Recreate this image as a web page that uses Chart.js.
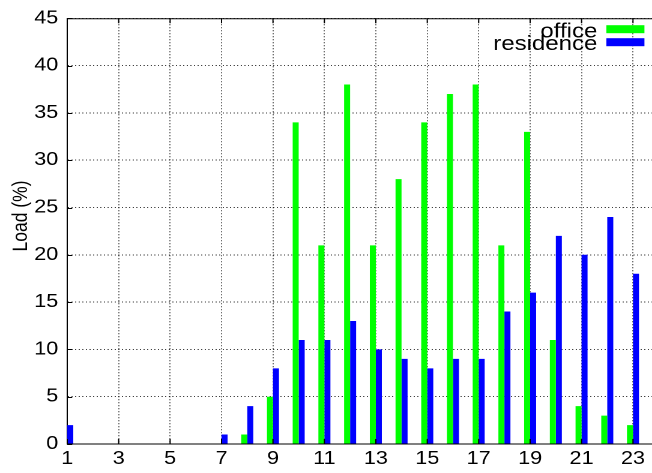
<!DOCTYPE html>
<html>
<head>
<meta charset="utf-8">
<script src="https://cdn.jsdelivr.net/npm/chart.js@4/dist/chart.umd.min.js"></script>
<style>
  html, body { margin: 0; padding: 0; background: #fff; }
  #wrap { width: 652px; height: 473px; overflow: hidden; }
  /* the drawing is laid out 543 units wide and shown 652px wide (wide-aspect output) */
  #c { display: block; width: 652px; height: 473px; }
</style>
</head>
<body>
<div id="wrap"><canvas id="c" width="543" height="473" style="width:652px;height:473px"></canvas></div>
<script>
// Hourly load profile of an office and a residence
const hours = [1, 2, 3, 4, 5, 6, 7, 8, 9, 10, 11, 12, 13, 14, 15, 16, 17, 18, 19, 20, 21, 22, 23];
const officeLoad = [0, 0, 0, 0, 0, 0, 0, 1, 5, 34, 21, 38, 21, 28, 34, 37, 38, 21, 33, 11, 4, 3, 2];
const residenceLoad = [2, 0, 0, 0, 0, 0, 1, 4, 8, 11, 11, 13, 10, 9, 8, 9, 9, 14, 16, 22, 20, 24, 18];
const xTicks = [1, 3, 5, 7, 9, 11, 13, 15, 17, 19, 21, 23];
const yTitle = 'Load (%)';
const seriesNames = ['office', 'residence'];

const FONT = '"Liberation Sans", Arial, Helvetica, sans-serif';
const FS = 18;        // tick labels
const TITLE_FS = 17.5; // axis title
const KEY_FS = 20;    // key entries

// Frame, inward tick marks, y title and the key
const decor = {
  id: 'decor',
  afterDatasetsDraw(chart) {
    const { ctx, chartArea: a, scales } = chart;
    ctx.save();
    ctx.strokeStyle = '#000';
    ctx.lineWidth = 1;
    // top border
    ctx.beginPath();
    ctx.moveTo(a.left, a.top + 0.5);
    ctx.lineTo(a.right, a.top + 0.5);
    ctx.stroke();
    // tick marks pointing into the plot
    const tl = 5;
    ctx.beginPath();
    scales.y.ticks.forEach(t => {
      const y = Math.round(scales.y.getPixelForValue(t.value)) + 0.5;
      ctx.moveTo(a.left, y); ctx.lineTo(a.left + tl / 1.2, y);
    });
    scales.x.ticks.forEach(t => {
      const x = scales.x.getPixelForValue(t.value);
      ctx.moveTo(x, a.bottom); ctx.lineTo(x, a.bottom - tl);
      ctx.moveTo(x, a.top); ctx.lineTo(x, a.top + tl);
    });
    ctx.stroke();

    // y axis title
    ctx.fillStyle = '#000';
    ctx.font = TITLE_FS + 'px ' + FONT;
    ctx.save();
    ctx.translate(17.5, 216);
    ctx.rotate(-Math.PI / 2);
    ctx.textAlign = 'center';
    ctx.textBaseline = 'middle';
    ctx.fillText(yTitle, 0, 0);
    ctx.restore();

    // key, top right inside the plot
    const textRight = 497.5, sx0 = 505, sx1 = 536.7;
    const baselines = [37.6, 50.2];
    const sampleY = [29.2, 42.2];
    ctx.font = KEY_FS + 'px ' + FONT;
    ctx.textAlign = 'right';
    ctx.textBaseline = 'alphabetic';
    chart.data.datasets.forEach((ds, i) => {
      ctx.fillStyle = '#000';
      ctx.fillText(ds.label, textRight, baselines[i]);
      ctx.fillStyle = ds.backgroundColor;
      ctx.fillRect(sx0, sampleY[i] - 4, sx1 - sx0, 8);
    });
    ctx.restore();
  }
};

new Chart(document.getElementById('c'), {
  type: 'bar',
  data: {
    datasets: [
      {
        label: seriesNames[0],
        data: hours.map((h, i) => ({ x: h, y: officeLoad[i] })),
        backgroundColor: '#00ff00',
        borderWidth: 0
      },
      {
        label: seriesNames[1],
        data: hours.map((h, i) => ({ x: h, y: residenceLoad[i] })),
        backgroundColor: '#0000ff',
        borderWidth: 0
      }
    ]
  },
  options: {
    responsive: false,
    devicePixelRatio: 2,
    animation: false,
    events: [],
    categoryPercentage: 0.467,
    barPercentage: 1.0,
    layout: { padding: { top: 16, right: 0, left: 0, bottom: 0 } },
    plugins: {
      legend: { display: false },
      tooltip: { enabled: false },
      title: { display: false }
    },
    scales: {
      x: {
        type: 'linear',
        offset: false,
        min: 1,
        max: 23.74,
        afterBuildTicks(scale) {
          scale.ticks = xTicks.map(v => ({ value: v }));
        },
        afterFit(scale) { scale.height = 29; },
        grid: {
          offset: false,
          drawTicks: false,
          color: 'rgba(0,0,0,0.75)',
          lineWidth: 1
        },
        border: { display: true, color: '#000', width: 1, dash: [1, 2] },
        ticks: {
          color: '#000',
          font: { family: FONT, size: FS },
          padding: 4,
          maxRotation: 0,
          autoSkip: false,
          callback: v => String(v)
        }
      },
      y: {
        min: 0,
        max: 45,
        afterFit(scale) { scale.width = 56; },
        grid: {
          drawTicks: false,
          color: 'rgba(0,0,0,0.75)',
          lineWidth: 1
        },
        border: { display: true, color: '#000', width: 1, dash: [1, 2] },
        ticks: {
          stepSize: 5,
          color: '#000',
          font: { family: FONT, size: FS },
          padding: 7.5
        }
      }
    }
  },
  plugins: [decor]
});
</script>
</body>
</html>
